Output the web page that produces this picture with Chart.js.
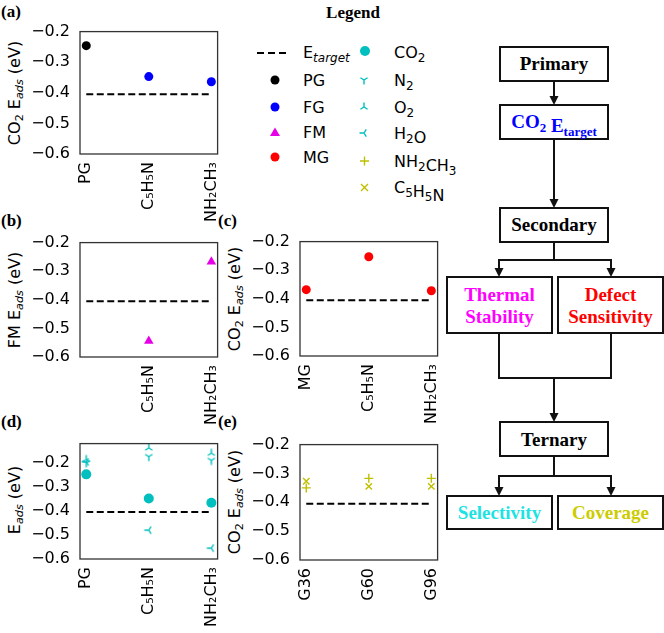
<!DOCTYPE html>
<html>
<head>
<meta charset="utf-8">
<script src="https://cdn.jsdelivr.net/npm/chart.js@4.4.1/dist/chart.umd.min.js"></script>
<style>
body { margin: 0; background: #fff; }
#page { position: relative; width: 664px; height: 633px; overflow: hidden; font-family: 'DejaVu Sans', sans-serif; }
.panel { position: absolute; }
.ylab { position: absolute; white-space: nowrap; font-size: 16px; line-height: 1; transform: translate(-50%, -50%) rotate(-90deg); }
.ylab sub { font-size: 70%; vertical-align: -0.3em; line-height: 0; }
.tag { position: absolute; font: bold 17px 'Liberation Serif', serif; line-height: 1; }
svg { position: absolute; left: 0; top: 0; }
</style>
</head>
<body>
<div id="page">
  <svg id="side" width="664" height="633"></svg>
  <div class="tag" style="left:1px;top:3px">(a)</div>
  <div class="tag" style="left:1px;top:212px">(b)</div>
  <div class="tag" style="left:218px;top:212px">(c)</div>
  <div class="tag" style="left:1px;top:413px">(d)</div>
  <div class="tag" style="left:218px;top:413px">(e)</div>
  <div class="ylab" style="left:15px;top:93px">CO<sub>2</sub> E<sub><i>ads</i></sub> (eV)</div>
  <div class="ylab" style="left:15px;top:300px">FM E<sub><i>ads</i></sub> (eV)</div>
  <div class="ylab" style="left:235px;top:299px">CO<sub>2</sub> E<sub><i>ads</i></sub> (eV)</div>
  <div class="ylab" style="left:15px;top:500px">E<sub><i>ads</i></sub> (eV)</div>
  <div class="ylab" style="left:235px;top:502px">CO<sub>2</sub> E<sub><i>ads</i></sub> (eV)</div>
</div>
<script>
// positions along each x axis
const xPos = [0, 1, 2];
const ligandLabels = ['PG', 'C₅H₅N', 'NH₂CH₃'];
const fmLabels = ['', 'C₅H₅N', 'NH₂CH₃'];
const mgLabels = ['MG', 'C₅H₅N', 'NH₂CH₃'];
const gridLabels = ['G36', 'G60', 'G96'];
const yTicks = [-0.6, -0.5, -0.4, -0.3, -0.2];
const eTarget = -0.405;

// (a) primary
const primaryPG = [-0.246, null, null];
const primaryFG = [null, -0.347, -0.364];
// (b) thermal stability
const fmValues = [null, -0.544, -0.267];
// (c) defect sensitivity
const mgValues = [-0.368, -0.253, -0.372];
// (d) selectivity
const selCO2 = [-0.248, -0.348, -0.366];
const selN2 = [-0.200, -0.174, -0.190];
const selO2 = [-0.186, -0.138, -0.160];
const selH2O = [-0.196, -0.480, -0.555];
// (e) coverage
const covNH2CH3 = [-0.350, -0.317, -0.317];
const covC5H5N = [-0.327, -0.345, -0.345];

const CYAN = '#00bfbf', YEL = '#bfbf00', MAG = '#e600e6';

function pts(arr) {
    return xPos.map((x, i) => ({x: x, y: arr[i]})).filter(p => p.y !== null);
}

// tri markers like matplotlib '1', '2', '3'
function tri(arms, color) {
    const c = document.createElement('canvas');
    c.width = 12; c.height = 12;
    const g = c.getContext('2d');
    g.strokeStyle = color; g.lineWidth = 1.4;
    g.beginPath();
    arms.forEach(a => { g.moveTo(6, 6); g.lineTo(6 + a[0] * 4.5, 6 + a[1] * 4.5); });
    g.stroke();
    return c;
}
const triDown = tri([[0, 1], [0.8, -0.5], [-0.8, -0.5]], CYAN);
const triUp = tri([[0, -1], [0.8, 0.5], [-0.8, 0.5]], CYAN);
const triLeft = tri([[-1, 0], [0.5, -0.8], [0.5, 0.8]], CYAN);

function marks(arr, color, style, r) {
    return {data: pts(arr), pointStyle: style, pointRadius: r, backgroundColor: color,
            borderColor: color, borderWidth: (style === 'cross' || style === 'crossRot') ? 1.4 : 0};
}
function target() {
    return {type: 'line', data: [{x: 0, y: eTarget}, {x: 2, y: eTarget}], borderColor: '#000',
            borderWidth: 2, borderDash: [7, 3.5], pointRadius: 0, showLine: true};
}

const frame = {
    id: 'frame',
    afterDraw(chart) {
        const a = chart.chartArea, ctx = chart.ctx;
        ctx.save();
        ctx.strokeStyle = '#333'; ctx.lineWidth = 1.3;
        ctx.strokeRect(a.left, a.top, a.right - a.left, a.bottom - a.top);
        ctx.restore();
    }
};

function fmt(v) {
    return (v < 0 ? '−' : '') + Math.abs(v).toFixed(1);
}

function build(div, w, h, yMax, labels, datasets) {
    div.innerHTML = '';
    const cv = document.createElement('canvas');
    cv.width = w; cv.height = h;
    div.appendChild(cv);
    const font = {family: 'DejaVu Sans', size: 16};
    return new Chart(cv, {
        type: 'scatter',
        data: {datasets: datasets},
        options: {
            responsive: false, animation: false,
            layout: {padding: {top: 12, right: 10, left: 0, bottom: 0}},
            plugins: {legend: {display: false}, tooltip: {enabled: false}},
            scales: {
                x: {
                    type: 'linear', min: -0.1, max: 2.1,
                    afterBuildTicks: s => { s.ticks = xPos.map(v => ({value: v})); },
                    afterFit: s => { s.height = 75; },
                    grid: {display: false, drawTicks: false}, border: {display: false},
                    ticks: {autoSkip: false, minRotation: 90, maxRotation: 90, padding: 8, color: '#000', font: font,
                            callback: v => labels[Math.round(v)]}
                },
                y: {
                    min: -0.6, max: yMax,
                    afterBuildTicks: s => { s.ticks = yTicks.map(v => ({value: v})); },
                    afterFit: s => { s.width = 80; },
                    grid: {display: false, drawTicks: false}, border: {display: false},
                    ticks: {padding: 10, color: '#000', font: font, callback: v => fmt(v)}
                }
            }
        },
        plugins: [frame]
    });
}

function panel(box, yMax, labels, datasets) {
    const div = document.createElement('div');
    div.className = 'panel';
    document.getElementById('page').appendChild(div);
    let w = box.R - box.L + 90, h = box.B - box.T + 87;
    let chart = build(div, w, h, yMax, labels, datasets);
    // grow the canvas until the plot frame has the wanted size
    for (let k = 0; k < 3; k++) {
        const a = chart.chartArea;
        const dw = Math.round((box.R - box.L) - (a.right - a.left));
        const dh = Math.round((box.B - box.T) - (a.bottom - a.top));
        if (!dw && !dh) break;
        chart.destroy();
        w += dw; h += dh;
        chart = build(div, w, h, yMax, labels, datasets);
    }
    div.style.left = (box.L - chart.chartArea.left) + 'px';
    div.style.top = (box.T - chart.chartArea.top) + 'px';
}

panel({L: 80, T: 32, R: 218, B: 154}, -0.2, ligandLabels, [
    target(),
    marks(primaryPG, '#000', 'circle', 4.5),
    marks(primaryFG, '#0000ff', 'circle', 4.5)
]);
panel({L: 80, T: 243, R: 218, B: 357}, -0.2, fmLabels, [
    target(),
    marks(fmValues, MAG, 'triangle', 5.5)
]);
panel({L: 300, T: 242, R: 438, B: 356}, -0.2, mgLabels, [
    target(),
    marks(mgValues, '#ff0000', 'circle', 4.5)
]);
panel({L: 80, T: 444, R: 218, B: 559}, -0.12, ligandLabels, [
    target(),
    marks(selCO2, CYAN, 'circle', 5),
    marks(selN2, CYAN, triDown, 6),
    marks(selO2, CYAN, triUp, 6),
    marks(selH2O, CYAN, triLeft, 6)
]);
panel({L: 300, T: 445, R: 438, B: 560}, -0.2, gridLabels, [
    target(),
    marks(covNH2CH3, YEL, 'cross', 4.5),
    marks(covC5H5N, YEL, 'crossRot', 4.5)
]);

// legend and flowchart
const NS = 'http://www.w3.org/2000/svg';
const svg = document.getElementById('side');
function el(tag, attrs, text) {
    const e = document.createElementNS(NS, tag);
    for (const k in attrs) e.setAttribute(k, attrs[k]);
    if (text) e.innerHTML = text;
    svg.appendChild(e);
    return e;
}
function sub(s, size) {
    return '<tspan dy="4" font-size="' + size + '">' + s + '</tspan><tspan dy="-4"></tspan>';
}
function isub(s, size) {
    return '<tspan dy="4" font-size="' + size + '" font-style="italic">' + s + '</tspan><tspan dy="-4"></tspan>';
}

el('text', {x: 353, y: 18, 'text-anchor': 'middle', 'font-family': 'Liberation Serif', 'font-weight': 'bold', 'font-size': 17}, 'Legend');
const lf = {'font-family': 'DejaVu Sans', 'font-size': 16, fill: '#000'};
function ltext(x, y, html) { el('text', Object.assign({x: x, y: y + 6}, lf), html); }
function triPath(x, y, arms, color) {
    let d = '';
    arms.forEach(a => { d += 'M' + x + ' ' + y + 'L' + (x + a[0] * 4.5) + ' ' + (y + a[1] * 4.5); });
    el('path', {d: d, stroke: color, 'stroke-width': 1.4, fill: 'none'});
}

el('line', {x1: 257, y1: 53, x2: 287, y2: 53, stroke: '#000', 'stroke-width': 2, 'stroke-dasharray': '7 4'});
ltext(303, 52, 'E' + isub('target', 12));
el('circle', {cx: 275, cy: 80, r: 4.5, fill: '#000'});
ltext(303, 80, 'PG');
el('circle', {cx: 275, cy: 107, r: 4.5, fill: '#0000ff'});
ltext(303, 107, 'FG');
el('polygon', {points: '275,127.5 280,136 270,136', fill: MAG});
ltext(303, 132, 'FM');
el('circle', {cx: 275, cy: 157, r: 4.5, fill: '#ff0000'});
ltext(303, 157, 'MG');

el('circle', {cx: 365, cy: 51, r: 5, fill: CYAN});
ltext(394, 52, 'CO' + sub('2', 12));
triPath(364, 80, [[0, 1], [0.8, -0.5], [-0.8, -0.5]], CYAN);
ltext(394, 80, 'N' + sub('2', 12));
triPath(364, 107, [[0, -1], [0.8, 0.5], [-0.8, 0.5]], CYAN);
ltext(394, 107, 'O' + sub('2', 12));
triPath(364, 133, [[-1, 0], [0.5, -0.8], [0.5, 0.8]], CYAN);
ltext(394, 133, 'H' + sub('2', 12) + 'O');
el('path', {d: 'M360 161L369 161M364.5 156.5L364.5 165.5', stroke: YEL, 'stroke-width': 1.4});
ltext(394, 161, 'NH' + sub('2', 12) + 'CH' + sub('3', 12));
el('path', {d: 'M361 184L368 191M368 184L361 191', stroke: YEL, 'stroke-width': 1.4});
ltext(394, 187, 'C' + sub('5', 12) + 'H' + sub('5', 12) + 'N');

// flowchart
const ff = {'font-family': 'Liberation Serif', 'font-weight': 'bold', 'font-size': 19, 'text-anchor': 'middle'};
function box(x, y, w, h) {
    el('rect', {x: x, y: y, width: w, height: h, fill: 'none', stroke: '#111', 'stroke-width': 2});
}
function label(x, y, color, html) { el('text', Object.assign({x: x, y: y, fill: color}, ff), html); }
function line(pts) {
    el('polyline', {points: pts.map(p => p.join(',')).join(' '), fill: 'none', stroke: '#111', 'stroke-width': 2});
}
function head(x, y) {
    el('polygon', {points: (x - 4.5) + ',' + (y - 9) + ' ' + (x + 4.5) + ',' + (y - 9) + ' ' + x + ',' + y, fill: '#111'});
}

box(500, 47, 108, 34); label(554, 70, '#000', 'Primary');
line([[554, 81], [554, 98]]); head(554, 105);
box(500, 105, 108, 34); label(554, 128, '#0000ff', 'CO' + sub('2', 13) + ' E' + sub('target', 13));
line([[554, 139], [554, 200]]); head(554, 208);
box(500, 208, 108, 34); label(554, 231, '#000', 'Secondary');
line([[554, 242], [554, 260]]);
line([[499, 270], [499, 260], [611, 260], [611, 270]]);
head(499, 277); head(611, 277);
box(447, 277, 105, 56);
label(499.5, 301, '#ff00ff', 'Thermal'); label(499.5, 323, '#ff00ff', 'Stability');
box(558, 277, 105, 56);
label(610.5, 301, '#ff0000', 'Defect'); label(610.5, 323, '#ff0000', 'Sensitivity');
line([[499, 333], [499, 378], [611, 378], [611, 333]]);
line([[554, 378], [554, 414]]); head(554, 422);
box(500, 422, 108, 34); label(554, 446, '#000', 'Ternary');
line([[554, 456], [554, 476]]);
line([[499, 489], [499, 476], [611, 476], [611, 489]]);
head(499, 496); head(611, 496);
box(447, 496, 105, 33); label(499.5, 519, '#1ee3e3', 'Selectivity');
box(558, 496, 105, 33); label(610.5, 519, '#cccc00', 'Coverage');
</script>
</body>
</html>
